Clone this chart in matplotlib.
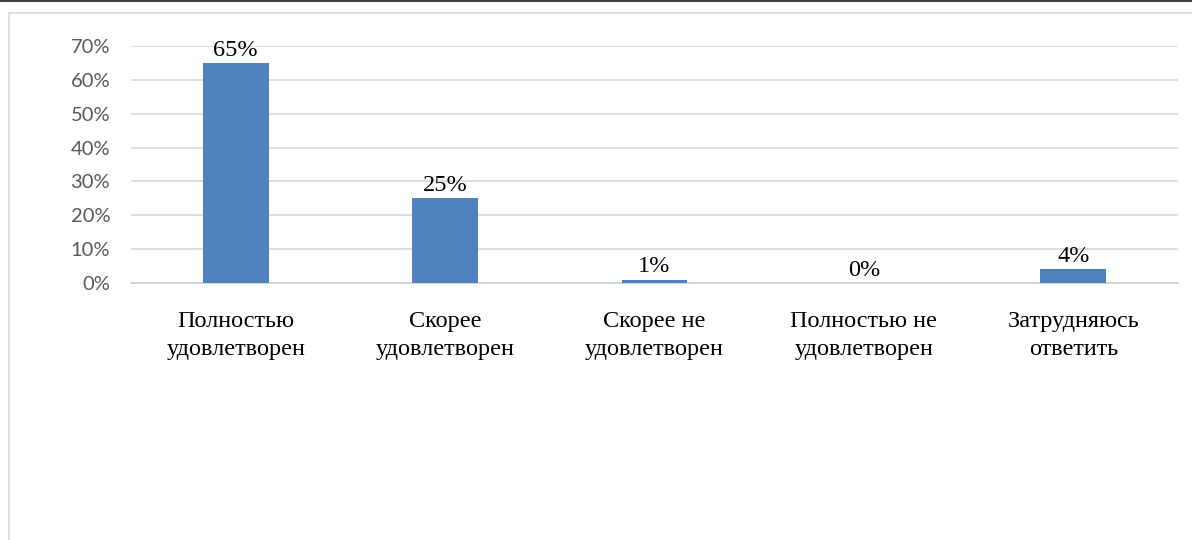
import matplotlib.pyplot as plt
from matplotlib.patches import Rectangle
from matplotlib.lines import Line2D
import numpy as np

categories = ['Полностью\nудовлетворен', 'Скорее\nудовлетворен', 'Скорее не\nудовлетворен',
              'Полностью не\nудовлетворен', 'Затрудняюсь\nответить']
values = [0.65, 0.25, 0.01, 0.00, 0.04]
value_labels = ['65%', '25%', '1%', '0%', '4%']
yticks = [0, 0.1, 0.2, 0.3, 0.4, 0.5, 0.6, 0.7]
ytick_labels = ['0%', '10%', '20%', '30%', '40%', '50%', '60%', '70%']

W, H = 1192, 540
fig = plt.figure(figsize=(W / 100, H / 100), dpi=100)
fig.patch.set_facecolor('white')

# chart frame and the dark line at the top edge
fig.patches.append(Rectangle((9 / W, -0.2), 1.2, 1.2 - 13 / H, transform=fig.transFigure,
                             fill=False, edgecolor='#d9d9d9', linewidth=1.2))
fig.lines.append(Line2D([0, 1], [1 - 1 / H, 1 - 1 / H], transform=fig.transFigure,
                        color='#404040', linewidth=1.5))

ax = fig.add_axes([131 / W, 1 - 283 / H, (1178 - 131) / W, (283 - 46) / H])
x = np.arange(len(categories))
bars = ax.bar(x, values, width=0.315, color='#4f81bd', zorder=3)

ax.set_xlim(-0.5, len(categories) - 0.5)
ax.set_ylim(0, 0.7)
ax.set_yticks(yticks)
ax.set_yticklabels(ytick_labels, fontfamily='Lato', fontsize=14.5, color='#595959')
ax.set_xticks(x)
ax.set_xticklabels(categories, fontfamily='Liberation Serif', fontsize=17.5, color='black',
                   linespacing=1.45)
ax.tick_params(axis='y', length=0, pad=15)
ax.tick_params(axis='x', length=0, pad=20)
ax.grid(axis='y', color='#d9d9d9', linewidth=1.2, zorder=0)
for s in ['top', 'right', 'left']:
    ax.spines[s].set_visible(False)
ax.spines['bottom'].set_color('#d0d0d0')
ax.spines['bottom'].set_linewidth(1.2)

for b, lab in zip(bars, value_labels):
    ax.text(b.get_x() + b.get_width() / 2, b.get_height() + 0.007, lab, ha='center', va='bottom',
            fontfamily='Liberation Serif', fontsize=17.5, color='black')

fig.savefig('out.png', dpi=100)
